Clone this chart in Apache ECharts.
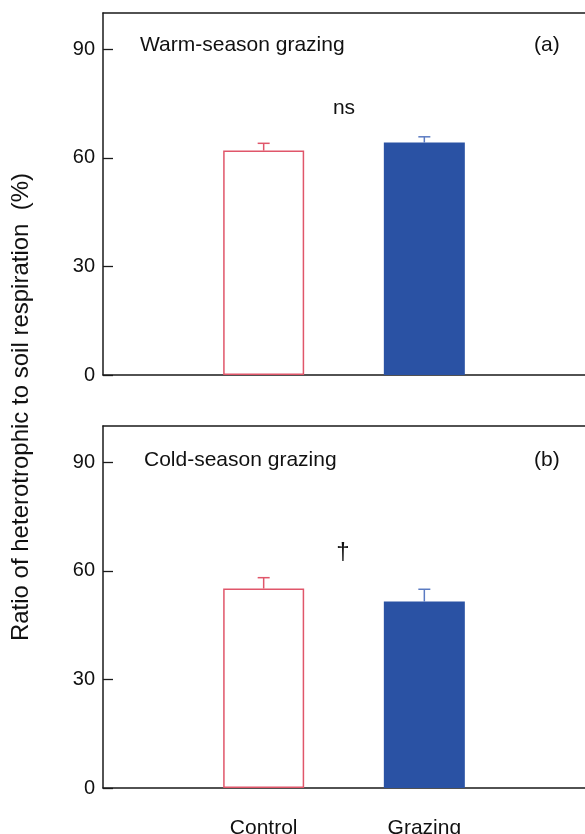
<!DOCTYPE html>
<html>
<head>
<meta charset="utf-8">
<script src="https://cdn.jsdelivr.net/npm/echarts@6/dist/echarts.min.js"></script>
<style>html,body{margin:0;padding:0;background:#fff}#c{width:585px;height:834px}</style>
</head>
<body>
<div id="c"></div>
<script>
// Data
var categories = ['', 'Control', 'Grazing', ''];
var panels = ['Warm-season grazing', 'Cold-season grazing'];
var panelTags = ['(a)', '(b)'];
var significance = ['ns', '\u2020'];
var controlValues = [62.0, 55.1];
var controlErrors = [2.0, 3.0];
var grazingValues = [64.2, 51.5];
var grazingErrors = [1.6, 3.4];
var yTicks = [0, 30, 60, 90];

var FONT = 'Liberation Sans, Arial, sans-serif';
var RED = '#e0566a';
var BLUE = '#2a52a4';
var BLUE_ERR = '#5b7bc2';
var AX = '#1a1a1a';

var chart = echarts.init(document.getElementById('c'));

var grids = [
  {left: 103, top: 13, right: 0, height: 362, outerBoundsMode: 'none', containLabel: false},
  {left: 103, top: 426, right: 0, height: 362, outerBoundsMode: 'none', containLabel: false}
];

var xAxes = [], yAxes = [], series = [];
for (var p = 0; p < 2; p++) {
  xAxes.push({
    type: 'value', gridIndex: p, min: 0, max: 3, interval: 1, position: 'bottom',
    splitLine: {show: false},
    axisLine: {show: true, onZero: false, lineStyle: {color: AX, width: 1.5}},
    axisTick: {show: false},
    axisLabel: {show: p === 1, color: '#111', fontFamily: FONT, fontSize: 21, margin: 30,
      showMinLabel: false, showMaxLabel: false,
      formatter: function (v) { return categories[Math.round(v)] || ''; }}
  });
  xAxes.push({
    type: 'value', gridIndex: p, min: 0, max: 3, position: 'top',
    splitLine: {show: false},
    axisLine: {show: true, onZero: false, lineStyle: {color: AX, width: 1.5}},
    axisTick: {show: false}, axisLabel: {show: false}
  });
  yAxes.push({
    type: 'value', gridIndex: p, min: 0, max: 100, interval: 30,
    splitLine: {show: false},
    axisLine: {show: true, lineStyle: {color: AX, width: 1.5}},
    axisTick: {show: true, inside: true, length: 10, lineStyle: {color: AX, width: 1.3}},
    axisLabel: {color: '#111', fontFamily: FONT, fontSize: 20, margin: 8, showMaxLabel: false}
  });
  var barData = [
    {value: [categories.indexOf('Control'), controlValues[p]], itemStyle: {color: '#ffffff', borderColor: RED, borderWidth: 1.5}},
    {value: [categories.indexOf('Grazing'), grazingValues[p]], itemStyle: {color: BLUE, borderWidth: 0}}
  ];
  series.push({
    type: 'bar', xAxisIndex: p * 2, yAxisIndex: p, data: barData, barWidth: 81,
    silent: true, animation: false
  });
  var errData = [
    [categories.indexOf('Control'), controlValues[p], controlValues[p] + controlErrors[p], 0],
    [categories.indexOf('Grazing'), grazingValues[p], grazingValues[p] + grazingErrors[p], 1]
  ];
  series.push({
    type: 'custom', xAxisIndex: p * 2, yAxisIndex: p, data: errData, silent: true, animation: false, z: 5,
    renderItem: function (params, api) {
      var x = api.value(0);
      var lo = api.coord([x, api.value(1)]);
      var hi = api.coord([x, api.value(2)]);
      var col = api.value(3) === 0 ? RED : BLUE_ERR;
      var hw = 6;
      return {
        type: 'group',
        children: [
          {type: 'line', shape: {x1: lo[0], y1: lo[1], x2: hi[0], y2: hi[1]}, style: {stroke: col, lineWidth: 1.5}},
          {type: 'line', shape: {x1: hi[0] - hw, y1: hi[1], x2: hi[0] + hw, y2: hi[1]}, style: {stroke: col, lineWidth: 1.5}}
        ]
      };
    }
  });
}

var textStyle = function (t, size) {
  return {text: t, fill: '#111', font: size + 'px ' + FONT};
};

var option = {
  animation: false,
  grid: grids,
  xAxis: xAxes,
  yAxis: yAxes,
  series: series,
  graphic: [
    {type: 'text', left: 140, top: 35, style: textStyle(panels[0], 21)},
    {type: 'text', left: 534, top: 35, style: textStyle(panelTags[0], 21)},
    {type: 'text', left: 144, top: 450, style: textStyle(panels[1], 21)},
    {type: 'text', left: 534, top: 450, style: textStyle(panelTags[1], 21)},
    {type: 'text', x: 344, y: 108, style: Object.assign(textStyle(significance[0], 21), {align: 'center', verticalAlign: 'middle'})},
    {type: 'text', x: 343, y: 552, style: Object.assign(textStyle(significance[1], 24), {align: 'center', verticalAlign: 'middle'})},
    {type: 'text', x: 21, y: 407, rotation: Math.PI / 2,
     style: Object.assign(textStyle('Ratio of heterotrophic to soil respiration  (%)', 24), {align: 'center', verticalAlign: 'middle'})}
  ]
};
chart.setOption(option);
</script>
</body>
</html>
